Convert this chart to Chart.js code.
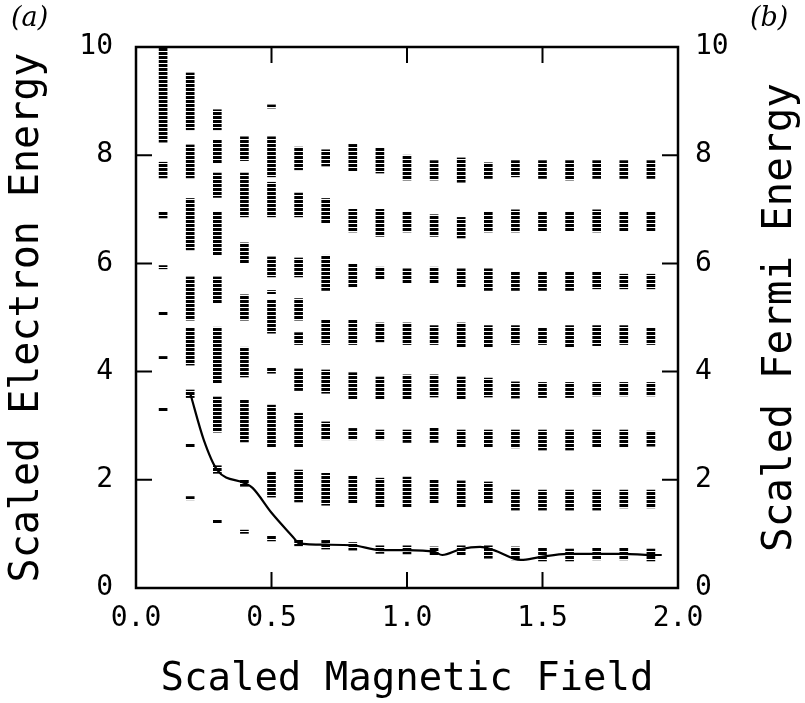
<!DOCTYPE html>
<html>
<head>
<meta charset="utf-8">
<script src="https://cdn.jsdelivr.net/npm/chart.js@4.4.1/dist/chart.umd.min.js"></script>
<style>html,body{margin:0;padding:0;background:#fff}canvas{display:block}</style>
</head>
<body>
<canvas id="c" width="805" height="703"></canvas>
<script>
// ---- data ----
const fieldValues = [0.1,0.2,0.3,0.4,0.5,0.6,0.7,0.8,0.9,1.0,1.1,1.2,1.3,1.4,1.5,1.6,1.7,1.8,1.9];

// energy-level bands [low, high] for each field value (same order as fieldValues)
const levelBands = [
  [[8.24,9.98],[7.58,7.87],[6.84,6.96],[5.9,5.96],[5.05,5.11],[4.22,4.28],[3.27,3.33]],
  [[8.47,9.52],[7.58,8.19],[6.25,7.2],[4.95,5.75],[4.12,4.8],[3.52,3.66],[2.61,2.67],[1.63,1.69]],
  [[8.47,8.84],[7.85,8.28],[7.22,7.67],[6.15,6.95],[5.27,5.75],[3.79,4.82],[2.88,3.53],[2.12,2.26],[1.2,1.26]],
  [[7.9,8.34],[6.86,7.67],[6.0,6.38],[4.95,5.42],[3.9,4.45],[2.7,3.47],[1.88,2.0],[1.01,1.07]],
  [[8.87,8.93],[7.6,8.34],[6.86,7.5],[5.75,6.12],[5.44,5.5],[4.71,5.32],[3.97,4.07],[2.61,3.38],[1.68,2.14],[0.87,0.97]],
  [[7.73,8.15],[6.86,7.3],[5.75,6.1],[4.95,5.35],[4.5,4.72],[3.65,4.05],[2.61,3.23],[1.59,2.18],[0.78,0.9]],
  [[7.8,8.1],[6.75,7.2],[5.5,6.15],[4.5,4.95],[3.6,4.03],[2.74,3.07],[1.53,2.12],[0.72,0.88]],
  [[7.7,8.2],[6.58,7.0],[5.56,6.0],[4.5,4.95],[3.5,3.98],[2.74,2.95],[1.57,2.08],[0.7,0.84]],
  [[7.67,8.13],[6.5,7.0],[5.7,5.93],[4.55,4.9],[3.5,3.9],[2.74,2.92],[1.5,2.03],[0.64,0.78]],
  [[7.54,8.0],[6.58,6.95],[5.64,5.9],[4.5,4.9],[3.5,3.94],[2.69,2.92],[1.5,2.05],[0.63,0.78]],
  [[7.54,7.9],[6.5,6.9],[5.64,5.93],[4.5,4.85],[3.53,3.94],[2.69,2.96],[1.57,2.0],[0.6,0.76]],
  [[7.5,7.95],[6.47,6.85],[5.56,5.9],[4.45,4.9],[3.5,3.9],[2.6,2.92],[1.5,1.98],[0.6,0.78]],
  [[7.57,7.86],[6.58,6.95],[5.5,5.9],[4.45,4.85],[3.53,3.88],[2.6,2.92],[1.57,1.96],[0.55,0.78]],
  [[7.6,7.9],[6.58,6.99],[5.5,5.84],[4.5,4.85],[3.51,3.81],[2.59,2.92],[1.44,1.81],[0.52,0.76]],
  [[7.57,7.9],[6.6,6.95],[5.5,5.84],[4.5,4.8],[3.52,3.8],[2.55,2.92],[1.44,1.81],[0.5,0.74]],
  [[7.54,7.9],[6.6,6.95],[5.5,5.84],[4.45,4.85],[3.52,3.8],[2.55,2.92],[1.44,1.81],[0.5,0.72]],
  [[7.57,7.9],[6.58,6.99],[5.53,5.84],[4.48,4.85],[3.55,3.8],[2.6,2.92],[1.44,1.81],[0.52,0.74]],
  [[7.57,7.9],[6.6,6.95],[5.53,5.8],[4.5,4.85],[3.55,3.8],[2.6,2.92],[1.48,1.81],[0.52,0.74]],
  [[7.57,7.9],[6.6,6.95],[5.53,5.8],[4.5,4.8],[3.55,3.8],[2.62,2.9],[1.48,1.81],[0.5,0.72]]
];

// Fermi energy curve
const fermiField  = [0.2,0.25,0.3,0.4,0.43,0.5,0.58,0.6,0.7,0.8,0.9,1.0,1.1,1.13,1.2,1.27,1.32,1.42,1.49,1.59,1.7,1.8,1.9,1.94];
const fermiEnergy = [3.6,2.74,2.18,1.94,1.85,1.39,0.94,0.83,0.8,0.79,0.7,0.7,0.67,0.61,0.72,0.76,0.7,0.52,0.57,0.63,0.63,0.63,0.61,0.61];

const fieldTicks  = [0,0.5,1.0,1.5,2.0];
const energyTicks = [0,2,4,6,8,10];

const xTitle = 'Scaled Magnetic Field';
const leftTitle = 'Scaled Electron Energy';
const rightTitle = 'Scaled Fermi Energy';
const panelA = '(a)';
const panelB = '(b)';

// ---- build chart ----
const MONO = "'DejaVu Sans Mono', 'Liberation Mono', monospace";
const canvas = document.getElementById('c');
const ctx = canvas.getContext('2d');

const pc = document.createElement('canvas');
pc.width = 4; pc.height = 4;
const pctx = pc.getContext('2d');
pctx.fillStyle = '#000';
pctx.fillRect(0, 0, 4, 3);
const bandPattern = ctx.createPattern(pc, 'repeat');

const bandData = [];
fieldValues.forEach((b, i) => levelBands[i].forEach(r => bandData.push({x: b, y: r})));
const fermiData = fermiField.map((b, i) => ({x: b, y: fermiEnergy[i]}));

const frameAndExtras = {
  id: 'frameAndExtras',
  afterDatasetsDraw(chart) {
    const {ctx, chartArea: a, scales} = chart;
    ctx.save();
    ctx.strokeStyle = '#000';
    ctx.lineWidth = 2.5;
    ctx.strokeRect(a.left, a.top, a.right - a.left, a.bottom - a.top);
    ctx.lineWidth = 2;
    ctx.beginPath();
    const tl = 16;
    scales.x.ticks.forEach(t => {
      if (t.value <= scales.x.min || t.value >= scales.x.max) return;
      const px = scales.x.getPixelForValue(t.value);
      ctx.moveTo(px, a.bottom); ctx.lineTo(px, a.bottom - tl);
      ctx.moveTo(px, a.top); ctx.lineTo(px, a.top + tl);
    });
    scales.y.ticks.forEach(t => {
      if (t.value <= scales.y.min || t.value >= scales.y.max) return;
      const py = scales.y.getPixelForValue(t.value);
      ctx.moveTo(a.left, py); ctx.lineTo(a.left + tl, py);
    });
    scales.y2.ticks.forEach(t => {
      if (t.value <= scales.y2.min || t.value >= scales.y2.max) return;
      const py = scales.y2.getPixelForValue(t.value);
      ctx.moveTo(a.right, py); ctx.lineTo(a.right - tl, py);
    });
    ctx.stroke();

    // right axis title (reads bottom to top)
    ctx.fillStyle = '#000';
    ctx.font = "41px " + MONO;
    ctx.textAlign = 'center';
    ctx.textBaseline = 'middle';
    ctx.translate(780, (a.top + a.bottom) / 2);
    ctx.rotate(-Math.PI / 2);
    ctx.fillText(rightTitle, 0, 0);
    ctx.restore();

    ctx.save();
    ctx.fillStyle = '#000';
    ctx.font = "italic 27px 'DejaVu Serif', 'Liberation Serif', serif";
    ctx.textAlign = 'left';
    ctx.textBaseline = 'middle';
    ctx.fillText(panelA, 11, 19);
    ctx.fillText(panelB, 750, 19);
    ctx.restore();
  }
};

const tickFont = {family: MONO, size: 28};

new Chart(ctx, {
  type: 'bar',
  data: {
    datasets: [
      {
        type: 'line',
        data: fermiData,
        xAxisID: 'x',
        yAxisID: 'y2',
        borderColor: '#000',
        borderWidth: 2.2,
        pointRadius: 0,
        fill: false,
        cubicInterpolationMode: 'monotone',
        order: 0
      },
      {
        type: 'bar',
        data: bandData,
        xAxisID: 'x',
        yAxisID: 'y',
        backgroundColor: bandPattern,
        borderWidth: 0,
        barThickness: 8,
        grouped: false,
        order: 1
      }
    ]
  },
  options: {
    responsive: false,
    animation: false,
    devicePixelRatio: 1,
    layout: {padding: {top: 47, left: 0, right: 0, bottom: 0}},
    plugins: {legend: {display: false}, tooltip: {enabled: false}},
    scales: {
      x: {
        type: 'linear', position: 'bottom', min: 0, max: 2, offset: false,
        afterBuildTicks: s => { s.ticks = fieldTicks.map(v => ({value: v})); },
        afterFit: s => { s.height = 115; },
        grid: {display: false, drawTicks: false},
        border: {display: false},
        ticks: {color: '#000', font: tickFont, padding: 14, maxRotation: 0, autoSkip: false,
                callback: v => Number(v).toFixed(1)},
        title: {display: true, text: xTitle, color: '#000', font: {family: MONO, size: 39},
                padding: {top: 0, bottom: 0}}
      },
      y: {
        type: 'linear', position: 'left', min: 0, max: 10,
        afterBuildTicks: s => { s.ticks = energyTicks.map(v => ({value: v})); },
        afterFit: s => { s.width = 136; },
        grid: {display: false, drawTicks: false},
        border: {display: false},
        ticks: {color: '#000', font: tickFont, padding: 23, callback: v => String(v)},
        title: {display: true, text: leftTitle, color: '#000', font: {family: MONO, size: 40},
                padding: {top: 4, bottom: 0}}
      },
      y2: {
        type: 'linear', position: 'right', min: 0, max: 10,
        afterBuildTicks: s => { s.ticks = energyTicks.map(v => ({value: v})); },
        afterFit: s => { s.width = 127; },
        grid: {display: false, drawTicks: false},
        border: {display: false},
        ticks: {color: '#000', font: tickFont, padding: 17, callback: v => String(v)}
      }
    }
  },
  plugins: [frameAndExtras]
});
</script>
</body>
</html>
